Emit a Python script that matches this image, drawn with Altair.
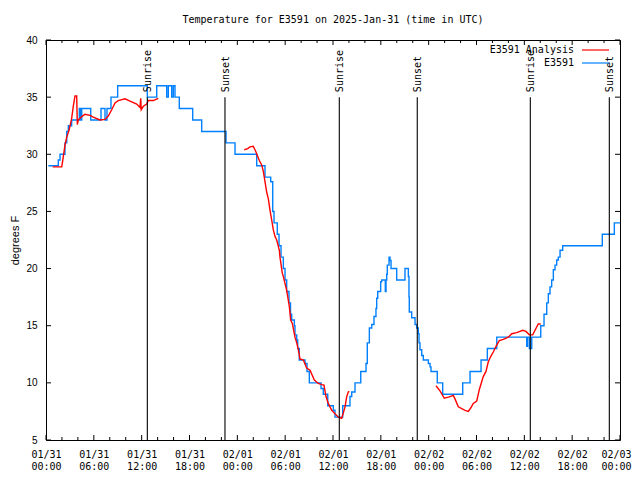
import altair as alt
import pandas as pd

# ---------------- data (hours after 2025-01-31 00:00 UTC, degrees F) ----------------
blue_h = [0.29, 1.54, 1.76, 2.38, 2.60, 2.80, 3.22, 4.18, 4.35, 4.48,
          5.61, 6.90, 7.40, 7.65, 8.15, 8.99, 12.71, 13.89, 15.14, 15.34,
          15.77, 15.97, 16.18, 16.72, 18.40, 19.53, 22.58, 23.71, 26.43, 27.47,
          28.19, 28.44, 28.60, 29.01, 29.23, 29.48, 29.77, 29.98, 30.19, 30.48,
          30.67, 30.82, 31.15, 31.23, 31.45, 31.57, 31.77, 32.49, 32.74, 33.03,
          34.50, 34.78, 35.34, 36.04, 36.25, 37.22, 38.13, 38.35, 38.76, 39.48,
          40.14, 40.30, 40.56, 40.86, 41.14, 41.39, 41.48, 41.61, 41.98, 42.11,
          42.56, 42.65, 42.74, 42.81, 43.03, 43.15, 43.28, 43.99, 45.03, 45.45,
          45.53, 45.57, 45.87, 46.29, 46.50, 46.70, 46.79, 46.91, 47.13, 47.33,
          47.96, 48.17, 48.29, 49.08, 49.76, 52.27, 53.19, 54.57, 55.36, 56.54,
          60.30, 60.40, 60.63, 60.93, 62.06, 62.47, 62.81, 63.01, 63.22, 63.43,
          63.64, 63.85, 64.06, 64.26, 64.48, 64.81, 69.78, 71.29, 72.0]
blue_t = [29, 29.5, 30, 31, 32, 32.5, 33, 34, 33, 34,
          33, 34, 33, 34, 35, 36, 35, 36, 35, 36,
          35, 36, 35, 34, 33, 32, 31, 30, 29, 28,
          27.6, 25, 24, 23, 22, 21, 20, 19, 18, 17,
          16, 15.5, 15, 14.2, 13.75, 13, 12, 11.7, 11, 10,
          9.5, 9, 8, 7.6, 7, 8, 8.8, 9.2, 10, 11,
          11.7, 13.5, 14.8, 15.1, 15.8, 16.5, 17.4, 18, 18.85, 19,
          18, 19, 19.5, 20.3, 21, 20.7, 20, 19, 20, 19.3,
          17.5, 16.2, 15.7, 15.1, 14.8, 14.3, 13.5, 12.9, 12.4, 12,
          11.7, 11.4, 11, 10, 9, 10, 11, 12, 13, 14,
          13.2, 14, 13, 14, 15, 16, 17, 17.8, 18.4, 19,
          19.9, 20.3, 20.75, 21, 21.6, 22, 23, 24, 24]

red1_h = [0.84, 1.97, 2.09, 2.38, 2.60, 2.89, 3.22, 3.42, 3.64, 3.85,
          3.93, 4.05, 4.48, 4.89, 5.52, 5.93, 6.77, 7.40, 7.81, 8.24,
          8.66, 9.07, 9.91, 10.54, 11.38, 11.79, 11.88, 11.95, 12.21, 12.63,
          12.83, 13.46, 14.09]
red1_t = [28.9, 28.9, 29.4, 30.8, 31.5, 32.1, 33.15, 34.2, 35.1, 35.1,
          32.6, 33.0, 33.3, 33.5, 33.4, 33.25, 33.0, 33.05, 33.35, 33.9,
          34.5, 34.7, 34.85, 34.65, 34.4, 34.1, 34.9, 33.9, 34.2, 34.4,
          34.7, 34.7, 34.9]
red2_h = [24.87, 25.30, 25.59, 26.00, 26.34, 26.51, 26.76, 27.06, 27.26, 27.47,
          27.68, 27.89, 28.10, 28.31, 28.51, 28.73, 28.94, 29.27, 29.35, 29.64,
          29.77, 30.19, 30.52, 30.69, 30.90, 31.23, 31.45, 31.65, 31.86, 32.28,
          32.70, 33.12, 33.66, 34.16, 34.58, 34.87, 35.12, 35.41, 35.84, 36.38,
          36.67, 37.09, 37.29, 37.51, 37.72, 37.92, 38.05]
red2_t = [30.4, 30.5, 30.65, 30.7, 30.2, 29.9, 29.45, 29.06, 28.5, 27.6,
          26.7, 26.1, 25.1, 24.25, 23.4, 22.8, 22.5, 21.6, 21.0, 19.6,
          19.3, 18.1, 16.7, 15.5, 15.2, 14.0, 13.5, 12.9, 12.1, 12.0,
          11.3, 11.1, 10.25, 9.95, 9.85, 9.8, 8.8, 8.2, 7.6, 7.2,
          7.0, 6.9, 7.35, 7.9, 8.8, 9.2, 9.25]
red3_h = [48.92, 49.42, 49.96, 50.46, 50.68, 51.09, 51.30, 51.72, 52.15, 52.56,
          52.97, 53.27, 53.60, 54.03, 54.35, 54.65, 54.85, 55.19, 55.48, 55.78,
          56.11, 56.45, 56.86, 57.36, 57.99, 58.42, 59.04, 59.80, 60.21, 60.63,
          61.05, 61.34, 61.75, 62.05]
red3_t = [9.75, 9.3, 8.65, 8.75, 8.8, 8.9, 8.6, 7.9, 7.75, 7.6,
          7.5, 7.8, 8.2, 8.4, 9.4, 10.1, 10.55, 11.0, 11.85, 12.3,
          12.7, 13.2, 13.7, 13.8, 14.0, 14.3, 14.4, 14.6, 14.5, 14.2,
          14.2, 14.6, 15.15, 15.15]

sun_h = [12.71, 22.45, 36.79, 46.57, 60.75, 70.66]
sun_labels = ["Sunrise", "Sunset", "Sunrise", "Sunset", "Sunrise", "Sunset"]
sun_top = 35
sun_bottom = 5

major_tick_h = list(range(0, 73, 6))
minor_tick_h = [h for h in range(0, 73, 2) if h % 6 != 0]
y_ticks = [5, 10, 15, 20, 25, 30, 35, 40]

series_names = ["E3591 Analysis", "E3591"]
title_text = "Temperature for E3591 on 2025-Jan-31 (time in UTC)"
y_title = "degrees F"

RED = "#ff0000"
BLUE = "#0080ff"
MONO = "DejaVu Sans Mono"
SANS = "Liberation Sans"

base = pd.Timestamp("2025-01-31T00:00:00", tz="UTC")


def ms(h):
    return int((base + pd.Timedelta(hours=h)).value // 10**6)


W, H = 574, 400

blue_df = pd.DataFrame({"time": [ms(h) for h in blue_h], "temp": blue_t})
red_df = pd.concat([
    pd.DataFrame({"time": [ms(h) for h in hs], "temp": ts, "seg": i})
    for i, (hs, ts) in enumerate([(red1_h, red1_t), (red2_h, red2_t), (red3_h, red3_t)])
])
sun_df = pd.DataFrame({"time": [ms(h) for h in sun_h], "label": sun_labels,
                       "temp": sun_top, "bottom": sun_bottom})
major_df = pd.DataFrame({"time": [ms(h) for h in major_tick_h]})
minor_df = pd.DataFrame({"time": [ms(h) for h in minor_tick_h]})
yt_df = pd.DataFrame({"temp": y_ticks})
one = pd.DataFrame({"a": [0]})

xscale = alt.Scale(type="utc", domain=[ms(0), ms(72)])
yscale = alt.Scale(domain=[5, 40], nice=False, zero=False)

last_ms = ms(major_tick_h[-1])
x_axis = alt.Axis(
    values=[ms(h) for h in major_tick_h],
    labelExpr="[utcFormat(datum.value, '%m/%d'), utcFormat(datum.value, '%H:%M')]",
    ticks=False, domain=False, grid=False, title=None,
    labelFont=MONO, labelFontSize=10, labelColor="black",
    labelPadding=9, labelLineHeight=12, labelOverlap=False, labelFlush=False,
    labelBound=False,
    labelOffset={"condition": {"test": f"datum.value >= {last_ms}", "value": -4}, "value": 0},
)
y_axis = alt.Axis(
    values=y_ticks, ticks=False, domain=False, grid=False,
    labelFont=SANS, labelFontSize=10, labelColor="black", labelPadding=9,
    title=y_title, titleFont=SANS, titleFontSize=11, titleFontWeight="normal",
    titleColor="black", titleX=-31, titleY=H / 2, titleAngle=270,
    titleBaseline="middle", titleAlign="center",
)

X = alt.X("time:T", scale=xscale, axis=x_axis, title=None)
Y = alt.Y("temp:Q", scale=yscale, axis=y_axis, title=y_title)

blue = alt.Chart(blue_df).mark_line(color=BLUE, strokeWidth=1.4, interpolate="step-after").encode(
    x=X, y=Y,
)
red = alt.Chart(red_df).mark_line(color=RED, strokeWidth=1.4).encode(
    x=X, y=Y, detail="seg:N",
)
sun_rules = alt.Chart(sun_df).mark_rule(color="black", strokeWidth=1.1).encode(
    x=X, y=Y, y2="bottom:Q",
)
sun_text = alt.Chart(sun_df).mark_text(
    angle=270, align="left", baseline="middle", dx=5, dy=1,
    font=MONO, fontSize=10, color="black",
).encode(x=X, y=Y, text="label:N")


def xticks(df, y0, y1):
    return alt.Chart(df).mark_rule(color="black", strokeWidth=1).encode(
        x=X, y=alt.value(y0), y2=alt.value(y1),
    )


def yticks(x0, x1):
    return alt.Chart(yt_df).mark_rule(color="black", strokeWidth=1).encode(
        y=Y, x=alt.value(x0), x2=alt.value(x1),
    )


tick_layers = [
    xticks(major_df, H, H - 5), xticks(major_df, 0, 5),
    xticks(minor_df, H, H - 3), xticks(minor_df, 0, 3),
    yticks(0, 5), yticks(W, W - 5),
]

leg_text1 = alt.Chart(one).mark_text(align="right", baseline="middle", font=MONO, fontSize=10, color="black").encode(
    x=alt.value(528), y=alt.value(10), text=alt.value(series_names[0]))
leg_text2 = alt.Chart(one).mark_text(align="right", baseline="middle", font=MONO, fontSize=10, color="black").encode(
    x=alt.value(528), y=alt.value(23), text=alt.value(series_names[1]))
leg_line1 = alt.Chart(one).mark_rule(color=RED, strokeWidth=1.2).encode(
    x=alt.value(536), x2=alt.value(563), y=alt.value(10))
leg_line2 = alt.Chart(one).mark_rule(color=BLUE, strokeWidth=1.2).encode(
    x=alt.value(536), x2=alt.value(563), y=alt.value(23))

chart = alt.layer(
    blue, red, sun_rules, sun_text, *tick_layers,
    leg_text1, leg_text2, leg_line1, leg_line2,
).properties(
    width=W, height=H,
    autosize=alt.AutoSizeParams(type="none"),
    padding={"left": 38, "top": 32, "right": 12, "bottom": 30},
    title=alt.TitleParams(title_text, font=MONO, fontSize=10, fontWeight="normal",
                          anchor="middle", offset=10, color="black"),
    background="white",
).configure_view(stroke="black", strokeWidth=1)

chart.save("out.html", embed_options={"renderer": "svg", "actions": False})
